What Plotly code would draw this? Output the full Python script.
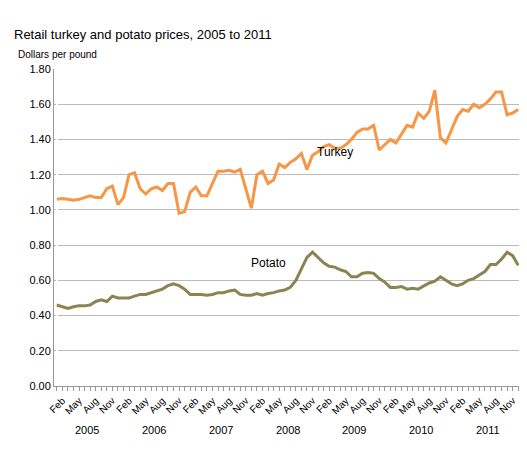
import plotly.graph_objects as go

turkey = [1.06,1.065,1.06,1.055,1.06,1.07,1.08,1.07,1.07,1.12,1.135,1.03,
          1.07,1.20,1.21,1.12,1.09,1.12,1.13,1.11,1.15,1.15,0.98,0.99,
          1.10,1.13,1.08,1.08,1.15,1.22,1.22,1.225,1.215,1.23,1.12,1.01,
          1.20,1.22,1.15,1.17,1.26,1.24,1.27,1.29,1.32,1.23,1.31,1.33,
          1.36,1.37,1.35,1.35,1.37,1.40,1.44,1.46,1.46,1.48,1.34,1.37,
          1.40,1.38,1.43,1.48,1.47,1.55,1.52,1.56,1.68,1.41,1.38,1.45,
          1.53,1.57,1.56,1.60,1.58,1.60,1.63,1.67,1.67,1.54,1.55,1.57]
potato = [.46,.45,.44,.45,.455,.455,.46,.48,.49,.48,.51,.50,
          .50,.50,.51,.52,.52,.53,.54,.55,.57,.58,.57,.55,
          .52,.52,.52,.515,.52,.53,.53,.54,.545,.52,.515,.515,
          .525,.515,.525,.53,.54,.545,.56,.60,.67,.73,.76,.73,
          .70,.68,.675,.66,.65,.62,.62,.64,.645,.64,.61,.59,
          .56,.56,.565,.55,.555,.55,.57,.585,.595,.62,.60,.58,
          .57,.58,.60,.61,.63,.65,.69,.69,.72,.76,.74,.685,.685,.665]
month_labels = ["Feb","May","Aug","Nov"]
years = ["2005","2006","2007","2008","2009","2010","2011"]

x = list(range(len(turkey)))
tickvals = [y*12 + m for y in range(7) for m in (1,4,7,10)]
ticktext = [month_labels[i % 4] for i in range(len(tickvals))]

fig = go.Figure()
fig.add_trace(go.Scatter(x=x, y=turkey, mode="lines", line=dict(color="#F79646", width=3)))
fig.add_trace(go.Scatter(x=x, y=potato, mode="lines", line=dict(color="#8C8352", width=3)))

fig.update_layout(
    width=527, height=450, showlegend=False,
    paper_bgcolor="white", plot_bgcolor="white",
    margin=dict(l=46, r=14, t=61, b=72, autoexpand=False),
    font=dict(family="Liberation Sans, Arial", size=11, color="black"),
    xaxis=dict(range=[-0.5, 83.5], tickvals=tickvals, ticktext=ticktext, tickangle=-45,
               showgrid=False, ticks="outside", ticklen=4, tickcolor="#999", automargin=False,
               showline=True, linecolor="#999",
               minor=dict(dtick=1, tick0=0, ticks="outside", ticklen=4, tickcolor="#999"),
               tickfont=dict(size=10)),
    yaxis=dict(range=[0, 1.8], dtick=0.2, tickformat=".2f", gridcolor="#BBBBBB", automargin=False,
               showline=True, linecolor="#999", zeroline=False, ticks="", tickfont=dict(size=11)),
)
for i, yr in enumerate(years):
    fig.add_annotation(x=i*12+5.5, y=0, yref="paper", yshift=-52, text=yr, showarrow=False,
                       font=dict(size=11))
fig.add_annotation(x=0, xref="paper", xanchor="left", y=1.0, yref="paper", yshift=44,
                   text="Retail turkey and potato prices, 2005 to 2011", showarrow=False,
                   font=dict(size=13), xshift=-42)
fig.add_annotation(x=0, xref="paper", xanchor="left", y=1.0, yref="paper", yshift=22,
                   text="Dollars per pound", showarrow=False, font=dict(size=10), xshift=-38)
fig.add_annotation(x=0, xref="paper", xanchor="left", y=0, yref="paper", yshift=-80,
                   text="Source: USDA, Economic Research Service using data from the U.S. Bureau of Labor Statistics.",
                   showarrow=False, font=dict(size=10), xshift=-42)
fig.add_annotation(x=50, y=1.33, text="Turkey", showarrow=False, font=dict(size=12))
fig.add_annotation(x=38, y=0.70, text="Potato", showarrow=False, font=dict(size=12))
fig.write_html("out.html")
